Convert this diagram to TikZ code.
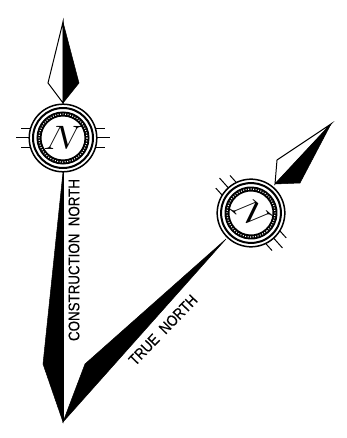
\documentclass[tikz,border=0pt]{standalone}
\usepackage{fontspec}
\setmainfont[FakeBold=0.35]{Liberation Sans}
\tikzset{
  x=1pt,y=-1pt,
  ink/.style={draw=black,line width=1pt,line join=miter},
  solid fill/.style={fill=black,draw=black,line width=0.5pt,line join=miter},
  ticks/.style={draw=black,line width=1pt},
  label text/.style={font=\fontsize{15.5}{15.5}\selectfont,inner sep=0pt,xscale=0.86},
  pics/compass/.style={code={
    \foreach \s in {1,-1}{
      \draw[ticks] (\s*33,0) -- (\s*47,0);
      \draw[ticks] (\s*33,-9.5) -- (\s*42,-9.5);
      \draw[ticks] (\s*33,9.5) -- (\s*42,9.5);
    }
    \fill[white] (0,0) circle (34);
    \draw[black,line width=1.5pt] (0,0) circle (33.8);
    \draw[black,line width=2pt] (0,0) circle (30);
    \draw[black,line width=5pt] (0,0) circle (24);
    \draw[white,line width=1.2pt,dash pattern=on 0.9pt off 1.6pt] (0,0) circle (24);
    \node[inner sep=0pt,rotate=#1,xslant=0.22,xscale=1.6,yscale=1.36,font=\fontsize{24.88}{24.88}\selectfont] at (0,0) {$N$};
  }}
}
\begin{document}
\begin{tikzpicture}
\useasboundingbox (0,0) rectangle (347,438);
% construction north
\draw[ink,fill=white] (63,22) -- (48,83) -- (63,103) -- cycle;
\draw[solid fill] (63,22) -- (79,83) -- (63,103) -- cycle;
\draw[solid fill] (63,422) -- (43,364) -- (63,172) -- cycle;
\draw[black,line width=0.8pt] (63,172) -- (63,422);
\pic at (63,138) {compass=0};
% true north
\draw[ink,fill=white] (331,124) -- (277,160) -- (275,184) -- cycle;
\draw[solid fill] (331,124) -- (300,183) -- (275,184) -- cycle;
\draw[solid fill] (63,422) -- (85,364) -- (226,239) -- cycle;
\pic[rotate=-48] at (251,213) {compass=-40};
\node[rotate=90,label text,anchor=center] (cn) at (74,260) {CONSTRUCTION\ \ NORTH};
\node[rotate=46,label text,anchor=center] (tn) at (163,330) {TRUE\ \ NORTH};
\end{tikzpicture}
\end{document}
